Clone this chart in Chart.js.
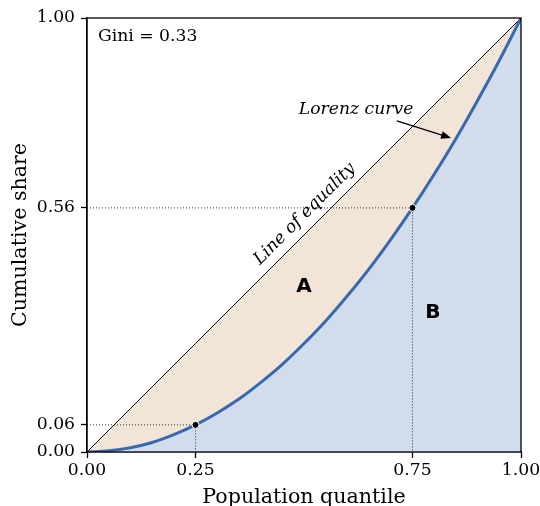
<!DOCTYPE html>
<html>
<head>
<meta charset="utf-8">
<script src="https://cdn.jsdelivr.net/npm/chart.js@4"></script>
<style>
  html, body { margin: 0; padding: 0; background: #fff; }
  #wrap { width: 540px; height: 506px; }
</style>
</head>
<body>
<div id="wrap"><canvas id="myChart" width="540" height="506"></canvas></div>
<script>
// population quantile and cumulative share
const quantiles = [0, 0.05, 0.1, 0.15, 0.2, 0.25, 0.3, 0.35, 0.4, 0.45, 0.5, 0.55, 0.6, 0.65, 0.7, 0.75, 0.8, 0.85, 0.9, 0.95, 1];
const lorenzShare = [0, 0.003, 0.01, 0.022, 0.04, 0.0625, 0.09, 0.122, 0.16, 0.202, 0.25, 0.302, 0.36, 0.422, 0.49, 0.5625, 0.64, 0.722, 0.81, 0.902, 1];
const equalityShare = [0, 0.05, 0.1, 0.15, 0.2, 0.25, 0.3, 0.35, 0.4, 0.45, 0.5, 0.55, 0.6, 0.65, 0.7, 0.75, 0.8, 0.85, 0.9, 0.95, 1];

// highlighted points on the curve
const markX = [0.25, 0.75];
const markY = [0.0625, 0.5625];

const xTickValues = [0, 0.25, 0.75, 1];
const xTickLabels = ['0.00', '0.25', '0.75', '1.00'];
const yTickValues = [0, 0.0625, 0.5625, 1];
const yTickLabels = ['0.00', '0.06', '0.56', '1.00'];

const giniText = 'Gini = 0.33';

const SERIF = '"DejaVu Serif", serif';
const SANS = '"DejaVu Sans", sans-serif';

const toPts = (xs, ys) => xs.map((x, i) => ({ x: x, y: ys[i] }));

// dotted guides from axes to each marked point
const guideSets = markX.map((x, i) => ({
  data: [{ x: 0, y: markY[i] }, { x: x, y: markY[i] }, { x: x, y: 0 }],
  borderColor: '#333',
  borderWidth: 1,
  borderDash: [1, 2],
  pointRadius: 0,
  fill: false,
  tension: 0,
}));

const framePlugin = {
  id: 'frame',
  afterDatasetsDraw(chart) {
    const { ctx, chartArea: a, scales } = chart;
    const px = (v) => scales.x.getPixelForValue(v);
    const py = (v) => scales.y.getPixelForValue(v);
    ctx.save();

    // spines
    ctx.strokeStyle = '#000';
    ctx.lineWidth = 1.3;
    ctx.strokeRect(a.left, a.top, a.right - a.left, a.bottom - a.top);

    // gini
    ctx.fillStyle = '#000';
    ctx.font = '17.2px ' + SERIF;
    ctx.textAlign = 'left';
    ctx.textBaseline = 'middle';
    ctx.fillText(giniText, a.left + 11, a.top + 19);

    // line of equality label
    ctx.save();
    ctx.translate(px(0.525) - 4, py(0.525) - 4);
    ctx.rotate(-Math.PI / 4);
    ctx.font = 'italic 17.2px ' + SERIF;
    ctx.textAlign = 'center';
    ctx.textBaseline = 'bottom';
    ctx.fillText('Line of equality', 0, 0);
    ctx.restore();

    // lorenz curve label + arrow
    ctx.font = 'italic 17.2px ' + SERIF;
    ctx.textAlign = 'center';
    ctx.textBaseline = 'middle';
    ctx.fillText('Lorenz curve', px(0.62), py(0.79));
    const x0 = px(0.714), y0 = py(0.763), x1 = px(0.839), y1 = py(0.7235);
    const ang = Math.atan2(y1 - y0, x1 - x0);
    ctx.strokeStyle = '#000';
    ctx.lineWidth = 1.2;
    ctx.beginPath();
    ctx.moveTo(x0, y0);
    ctx.lineTo(x1 - 8 * Math.cos(ang), y1 - 8 * Math.sin(ang));
    ctx.stroke();
    ctx.beginPath();
    ctx.moveTo(x1, y1);
    ctx.lineTo(x1 - 10 * Math.cos(ang) + 4 * Math.sin(ang), y1 - 10 * Math.sin(ang) - 4 * Math.cos(ang));
    ctx.lineTo(x1 - 10 * Math.cos(ang) - 4 * Math.sin(ang), y1 - 10 * Math.sin(ang) + 4 * Math.cos(ang));
    ctx.closePath();
    ctx.fill();

    // area letters
    ctx.font = 'bold 20px ' + SANS;
    ctx.fillText('A', px(0.5), py(0.38));
    ctx.fillText('B', px(0.797), py(0.32));
    ctx.restore();
  },
};

const ctx = document.getElementById('myChart');

new Chart(ctx, {
  type: 'line',
  data: {
    datasets: [
      {
        label: 'Marked points',
        data: toPts(markX, markY),
        showLine: false,
        pointRadius: 3.5,
        pointBackgroundColor: '#000',
        pointBorderColor: '#fff',
        pointBorderWidth: 1,
        fill: false,
      },
      {
        label: 'Lorenz curve',
        data: toPts(quantiles, lorenzShare),
        borderColor: '#3868ae',
        borderWidth: 3,
        pointRadius: 0,
        cubicInterpolationMode: 'monotone',
        fill: { target: 'origin', above: '#d1ddec' },
        backgroundColor: '#d1ddec',
      },
      ...guideSets,
      {
        label: 'Line of equality',
        data: toPts(quantiles, equalityShare),
        borderColor: '#000',
        borderWidth: 1,
        pointRadius: 0,
        fill: { target: 1, above: '#f2e5d7', below: '#f2e5d7' },
        backgroundColor: '#f2e5d7',
      },
    ],
  },
  options: {
    responsive: false,
    animation: false,
    layout: { padding: { left: 8, top: 18, right: 19, bottom: 0 } },
    plugins: {
      legend: { display: false },
      tooltip: { enabled: false },
      filler: { drawTime: 'beforeDatasetsDraw' },
    },
    scales: {
      x: {
        type: 'linear',
        min: 0,
        max: 1,
        afterFit: (s) => { s.height = 54; s.paddingLeft = 0; s.paddingRight = 0; },
        afterBuildTicks: (s) => { s.ticks = xTickValues.map((v) => ({ value: v })); },
        ticks: {
          autoSkip: false,
          maxRotation: 0,
          padding: 2,
          color: '#000',
          font: { family: SERIF, size: 17.2 },
          callback: (v) => xTickLabels[xTickValues.indexOf(v)],
        },
        grid: { drawOnChartArea: false, tickLength: 6, tickColor: '#000', tickWidth: 1.3 },
        border: { color: '#000', width: 1.3 },
        title: {
          display: true,
          text: 'Population quantile',
          color: '#000',
          font: { family: SERIF, size: 20.6 },
          padding: { top: 0, bottom: -4 },
        },
      },
      y: {
        type: 'linear',
        min: 0,
        max: 1,
        afterFit: (s) => { s.width = 79; s.paddingTop = 0; s.paddingBottom = 0; },
        afterBuildTicks: (s) => { s.ticks = yTickValues.map((v) => ({ value: v })); },
        ticks: {
          autoSkip: false,
          padding: 6,
          color: '#000',
          font: { family: SERIF, size: 17.2 },
          callback: (v) => yTickLabels[yTickValues.indexOf(v)],
        },
        grid: { drawOnChartArea: false, tickLength: 6, tickColor: '#000', tickWidth: 1.3 },
        border: { color: '#000', width: 1.3 },
        title: {
          display: true,
          text: 'Cumulative share',
          color: '#000',
          font: { family: SERIF, size: 20.6 },
          padding: { top: 0, bottom: 0 },
        },
      },
    },
  },
  plugins: [framePlugin],
});
</script>
</body>
</html>
